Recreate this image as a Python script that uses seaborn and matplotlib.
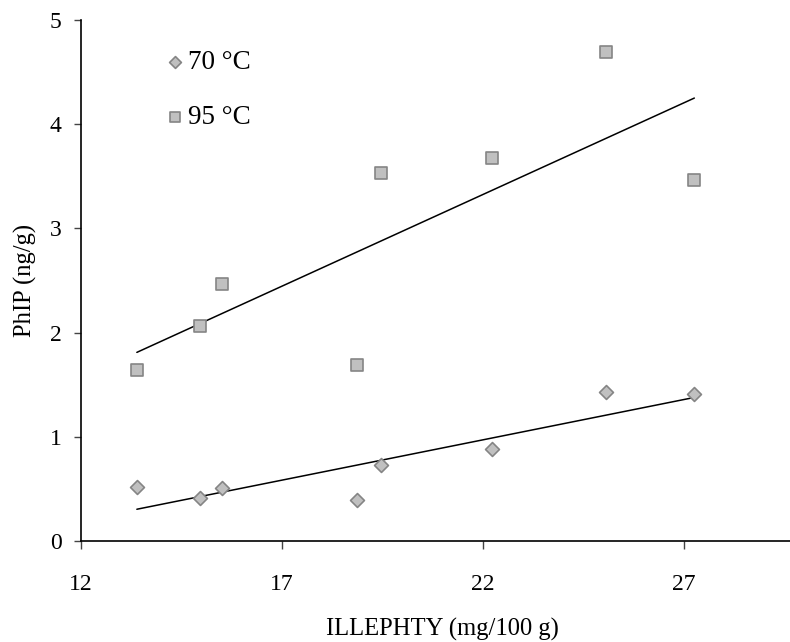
import matplotlib
matplotlib.use("Agg")
import matplotlib.pyplot as plt
import seaborn as sns
import pandas as pd

# ILLEPHTY content of the samples (mg/100 g)
illephty = [13.39, 14.97, 15.51, 18.87, 19.47, 22.23, 25.07, 27.26]
# PhIP formed at each cooking temperature (ng/g)
phip_70 = [0.52, 0.41, 0.51, 0.39, 0.73, 0.88, 1.43, 1.41]
phip_95 = [1.64, 2.06, 2.47, 1.69, 3.53, 3.68, 4.69, 3.46]
series_labels = ["70 °C", "95 °C"]
x_ticks = [12, 17, 22, 27]
y_ticks = [0, 1, 2, 3, 4, 5]

df70 = pd.DataFrame({"x": illephty, "y": phip_70})
df95 = pd.DataFrame({"x": illephty, "y": phip_95})

sns.set_theme(style="white")
plt.rcParams["font.family"] = ["Liberation Serif", "DejaVu Serif"]

fig = plt.figure(figsize=(7.9, 6.42), dpi=100)
ax = fig.add_axes([0.1025, 0.1573, 0.8975, 0.8115])

fill = "#c0c0c0"
edge = "#858585"

sns.scatterplot(data=df70, x="x", y="y", marker="D", s=50, color=fill,
                edgecolor=edge, linewidth=1.2, label=series_labels[0], ax=ax, zorder=3)
sns.scatterplot(data=df95, x="x", y="y", marker="s", s=84, color=fill,
                edgecolor=edge, linewidth=1.2, label=series_labels[1], ax=ax, zorder=3)

line_kws = {"color": "black", "linewidth": 1.1}
sns.regplot(data=df70, x="x", y="y", ci=None, scatter=False, line_kws=line_kws, ax=ax)
sns.regplot(data=df95, x="x", y="y", ci=None, scatter=False, line_kws=line_kws, ax=ax)

ax.set_xlim(12, 29.64)
ax.set_ylim(0, 5)
ax.set_xticks(x_ticks)
ax.set_yticks(y_ticks)
ax.set_xticklabels([str(t) for t in x_ticks])
ax.set_yticklabels([str(t) for t in y_ticks])

for side in ("top", "right"):
    ax.spines[side].set_visible(False)
for side in ("left", "bottom"):
    ax.spines[side].set_color("black")
    ax.spines[side].set_linewidth(1.2)

ax.tick_params(axis="x", direction="out", length=6, width=1, color="#444444",
               pad=18, labelsize=17, labelcolor="black", bottom=True)
ax.tick_params(axis="y", direction="out", length=5, width=1, color="#444444",
               pad=9, labelsize=17, labelcolor="black", left=True)

ax.set_xlabel("ILLEPHTY (mg/100 g)", fontsize=17.7, color="black")
ax.set_ylabel("PhIP (ng/g)", fontsize=17.7, color="black")
ax.xaxis.set_label_coords(0.51, -0.148)
ax.yaxis.set_label_coords(-0.062, 0.5)

leg = ax.legend(loc="upper left", bbox_to_anchor=(0.098, 0.964), frameon=False,
                fontsize=19.5, handletextpad=0.0, labelspacing=1.13,
                markerscale=0.85, handlelength=1.0, borderaxespad=0)
for t in leg.get_texts():
    t.set_color("black")

ax.grid(False)
fig.savefig("out.png", dpi=100)
